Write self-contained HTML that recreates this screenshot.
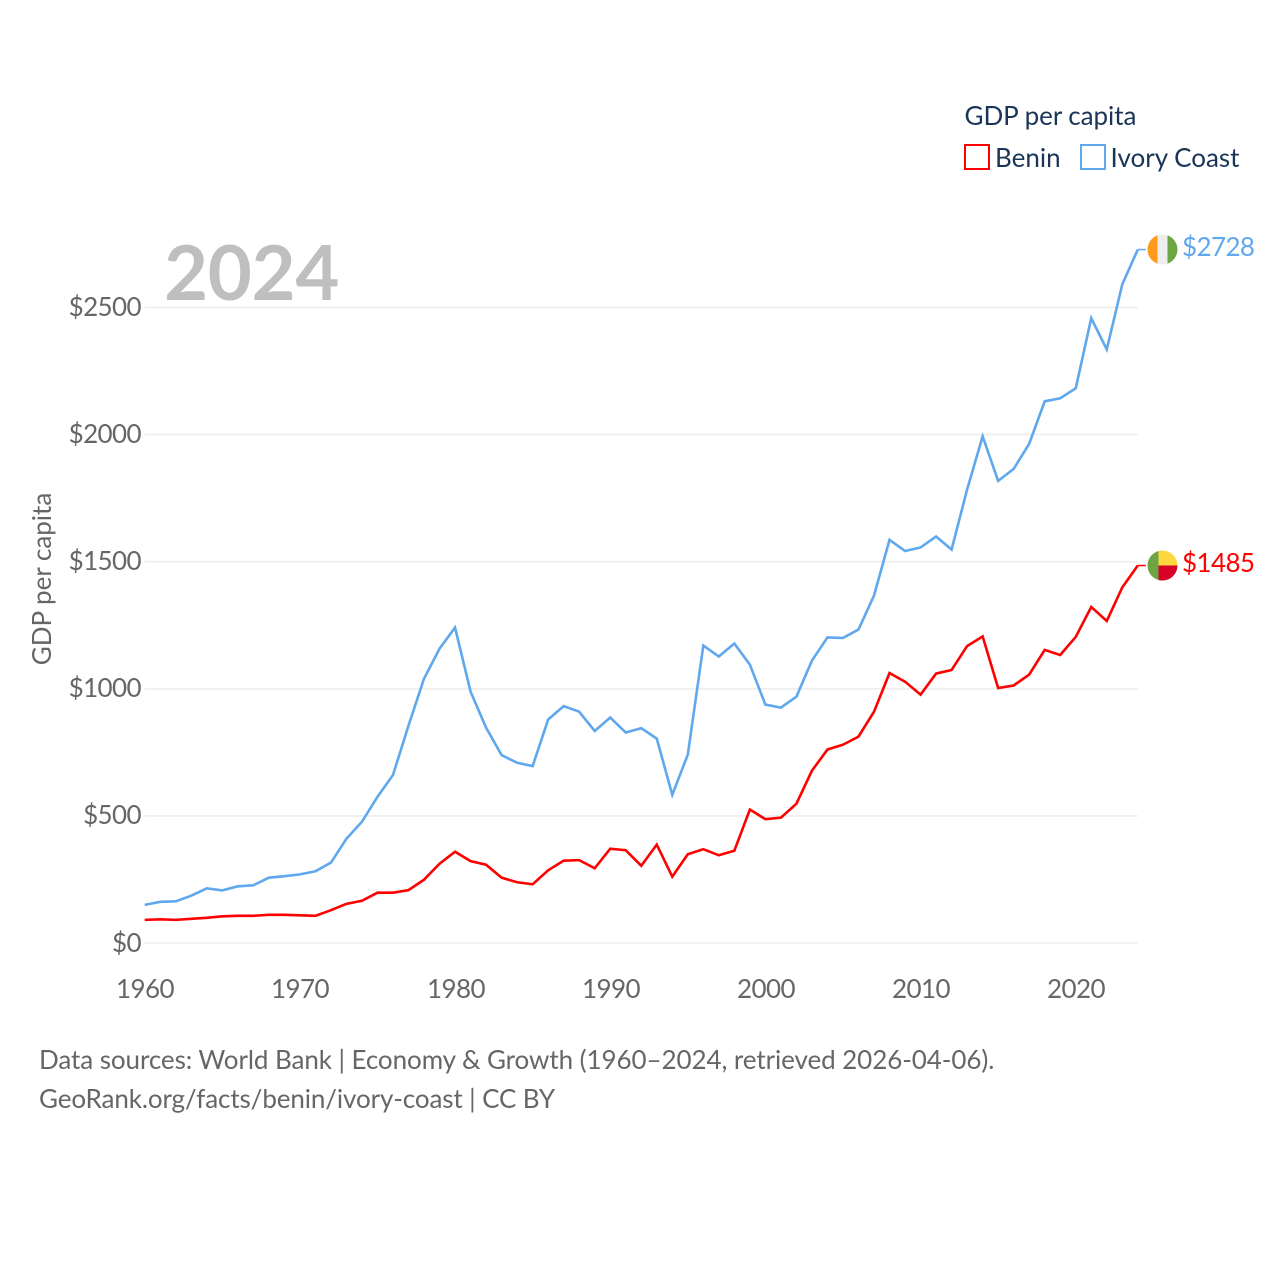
<!DOCTYPE html>
<html lang="en">
<head>
<meta charset="utf-8">
<title>GDP per capita: Benin and Ivory Coast</title>
<style>
  html, body { margin: 0; padding: 0; background: #fff; }
  #stage { position: relative; width: 1280px; height: 1280px; overflow: hidden; background: #fff; font-family: "Lato", "Carlito", "Liberation Sans", sans-serif; font-size: 26px; }
  svg { position: absolute; left: 0; top: 0; display: block; }
  .t { position: absolute; white-space: nowrap; line-height: 30px; height: 30px; color: #666666; }
  .navy { color: #1a3557; }
</style>
</head>
<body>
<div id="stage">
<svg id="chart" xmlns="http://www.w3.org/2000/svg" width="1280" height="1280" viewBox="0 0 1280 1280">
  <defs>
    <clipPath id="flag-clip"><circle cx="0" cy="0" r="15"/></clipPath>
  </defs>
  <g id="grid"></g>
  <g id="series"></g>
  <rect x="965" y="145" width="24" height="24" fill="#ffffff" stroke="#ff0000" stroke-width="2"/>
  <rect x="1081" y="145" width="24" height="24" fill="#ffffff" stroke="#5fa8ed" stroke-width="2"/>
</svg>
<div class="t" style="left:164px;top:222px;font-size:76px;font-weight:700;color:#bfbfbf;line-height:100px;height:100px;letter-spacing:-0.3px;">2024</div>
<div class="t" style="left:-59px;top:564px;width:200px;text-align:center;transform:rotate(-90deg);">GDP per capita</div>
<div class="t navy" style="left:964.5px;top:100px;letter-spacing:-0.05px;">GDP per capita</div>
<div class="t navy" style="left:995px;top:142px;">Benin</div>
<div class="t navy" style="left:1110.5px;top:142px;">Ivory Coast</div>
<div class="t" style="left:39px;top:1044px;letter-spacing:-0.076px;">Data sources: World Bank | Economy &amp; Growth (1960–2024, retrieved 2026-04-06).</div>
<div class="t" style="left:39px;top:1083px;letter-spacing:-0.116px;">GeoRank.org/facts/benin/ivory-coast | CC BY</div>
</div>
<script>
const years = [1960,1961,1962,1963,1964,1965,1966,1967,1968,1969,1970,1971,1972,1973,1974,1975,1976,1977,1978,1979,1980,1981,1982,1983,1984,1985,1986,1987,1988,1989,1990,1991,1992,1993,1994,1995,1996,1997,1998,1999,2000,2001,2002,2003,2004,2005,2006,2007,2008,2009,2010,2011,2012,2013,2014,2015,2016,2017,2018,2019,2020,2021,2022,2023,2024];
const ivoryCoastValues = [150,162,164,186,215,207,223,227,257,263,270,282,316,410,477,575,661,855,1040,1158,1241,989,847,739,709,696,879,932,910,834,887,828,845,804,583,741,1170,1127,1178,1095,938,926,969,1111,1202,1200,1233,1367,1586,1542,1556,1599,1548,1784,1993,1818,1865,1964,2131,2143,2182,2458,2335,2591,2728];
const beninValues = [91,93,91,95,99,105,107,107,111,111,109,107,129,154,166,198,198,208,249,312,359,322,308,257,239,231,286,324,326,294,371,365,304,387,261,349,369,345,363,525,487,493,548,678,761,780,812,910,1062,1028,977,1060,1074,1168,1206,1003,1013,1056,1153,1133,1204,1322,1267,1399,1485];
const yTickValues = [0,500,1000,1500,2000,2500];
const xTickValues = [1960,1970,1980,1990,2000,2010,2020];

const SVG_NS = 'http://www.w3.org/2000/svg';
const plotLeft = 144.7, plotRight = 1137.8, plotBottom = 943, plotTop = 307.5;
const stage = document.getElementById('stage');
function xScale(year) {
  return plotLeft + (year - years[0]) / (years[years.length - 1] - years[0]) * (plotRight - plotLeft);
}
function yScale(value) {
  return plotBottom - value / 2500 * (plotBottom - plotTop);
}
function make(tag, attrs, parent) {
  const el = document.createElementNS(SVG_NS, tag);
  for (const k in attrs) el.setAttribute(k, attrs[k]);
  parent.appendChild(el);
  return el;
}
function makeText(css, text) {
  const el = document.createElement('div');
  el.className = 't';
  el.style.cssText = css;
  el.textContent = text;
  stage.appendChild(el);
  return el;
}

const gridGroup = document.getElementById('grid');
yTickValues.forEach(function (t) {
  const line = make('line', {x1: plotLeft, x2: plotRight, y1: yScale(t), y2: yScale(t), stroke: '#eeeeee', 'stroke-width': 1.6}, gridGroup);
  
  
  const label = makeText('right:1139px;letter-spacing:-0.6px;top:' + Math.round(yScale(t) + 8.5 - 25) + 'px;', '$' + t);
  
  
});

xTickValues.forEach(function (t) {
  const label = makeText('left:' + Math.round(xScale(t) - 49.5) + 'px;width:100px;text-align:center;letter-spacing:-0.6px;top:973px;', String(t));
  
  
});

const seriesGroup = document.getElementById('series');
function drawSeries(slug, values, color, flagDraw) {
  const pts = values.map(function (v, i) { return xScale(years[i]).toFixed(2) + ',' + yScale(v).toFixed(2); });
  const lastY = yScale(values[values.length - 1]);
  const line = make('polyline', {points: pts.join(' '), fill: 'none', stroke: color, 'stroke-width': 2.6, 'stroke-linejoin': 'miter'}, seriesGroup);
  
  
  const leader = make('line', {x1: plotRight, x2: plotRight + 8, y1: lastY, y2: lastY, stroke: color, 'stroke-width': 1.5}, seriesGroup);
  
  
  const flag = make('g', {transform: 'translate(1162.5,' + lastY + ')', 'clip-path': 'url(#flag-clip)'}, seriesGroup);
  
  
  flagDraw(flag);
  const label = makeText('left:1182px;letter-spacing:-0.6px;top:' + Math.round(lastY + 6.5 - 25) + 'px;color:' + color + ';', '$' + values[values.length - 1]);
  
  
}

drawSeries('ivory-coast', ivoryCoastValues, '#5fa8ed', function (g) {
  make('rect', {x: -15, y: -15, width: 10, height: 30, fill: '#ff9a1a'}, g);
  make('rect', {x: -5, y: -15, width: 10, height: 30, fill: '#eeeeee'}, g);
  make('rect', {x: 5, y: -15, width: 10, height: 30, fill: '#6da544'}, g);
});
drawSeries('benin', beninValues, '#ff0000', function (g) {
  make('rect', {x: -15, y: -15, width: 15, height: 30, fill: '#6da544'}, g);
  make('rect', {x: -4, y: -15, width: 19, height: 15, fill: '#ffd73f'}, g);
  make('rect', {x: -4, y: 0, width: 19, height: 15, fill: '#d80027'}, g);
});
</script>
</body>
</html>
